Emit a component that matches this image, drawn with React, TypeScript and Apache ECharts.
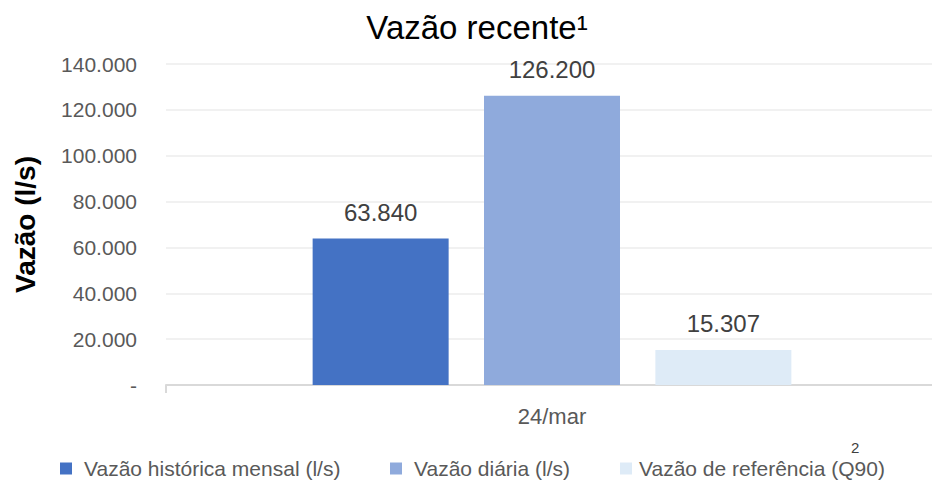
import React, { useEffect, useRef } from "react";
import * as echarts from "echarts";

const categories = ["24/mar"];
const seriesNames = ["Vazão histórica mensal (l/s)", "Vazão diária (l/s)", "Vazão de referência (Q90)"];
const seriesValues = [[63840], [126200], [15307]];
const seriesColors = ["#4472C4", "#8FAADC", "#DEEBF7"];
const yTicks = { min: 0, max: 140000, interval: 20000 };

const FONT = "'Liberation Sans', 'Noto Sans', sans-serif";

function fmt(v: number): string {
  if (v === 0) return "-";
  return Math.round(v).toString().replace(/\B(?=(\d{3})+(?!\d))/g, ".");
}

const legendLefts = [55, 385, 615];
const legendTextPad = [7, 7, 2];

export default function App() {
  const ref = useRef<HTMLDivElement>(null);
  useEffect(() => {
    if (!ref.current) return;
    const chart = echarts.init(ref.current, undefined, { renderer: "svg" });
    chart.setOption({
      animation: false,
      backgroundColor: "#ffffff",
      textStyle: { fontFamily: FONT },
      title: {
        text: "Vazão recente¹",
        left: 472,
        textAlign: "center",
        top: 6,
        textStyle: { fontFamily: FONT, fontSize: 33, fontWeight: "normal", color: "#000000" },
      },
      legend: seriesNames.map((name, i) => ({
        top: 453,
        left: legendLefts[i],
        itemWidth: 12,
        itemHeight: 12,
        icon: "rect",
        textStyle: { fontFamily: FONT, fontSize: 21, color: "#595959", padding: [0, 0, 0, legendTextPad[i]] },
        data: [name],
      })),
      grid: { left: 166, right: 0, top: 64, bottom: 99 },
      xAxis: {
        type: "category",
        data: categories,
        axisLine: { show: true, lineStyle: { color: "#D9D9D9", width: 2 } },
        axisTick: { show: true, alignWithLabel: false, length: 8, lineStyle: { color: "#D9D9D9", width: 2 } },
        axisLabel: { fontFamily: FONT, fontSize: 22, color: "#595959", margin: 20 },
      },
      yAxis: {
        type: "value",
        min: yTicks.min,
        max: yTicks.max,
        interval: yTicks.interval,
        name: "Vazão (l/s)",
        nameLocation: "middle",
        nameGap: 127,
        nameTextStyle: { fontFamily: FONT, fontSize: 28, fontWeight: "bold", color: "#000000" },
        axisLine: { show: false },
        axisTick: { show: false },
        splitLine: { lineStyle: { color: "#EDEDED", width: 1.5 } },
        axisLabel: {
          fontFamily: FONT,
          fontSize: 21,
          color: "#595959",
          margin: 29,
          formatter: (v: number) => fmt(v),
        },
      },
      series: seriesNames.map((name, i) => ({
        name,
        type: "bar",
        data: seriesValues[i],
        barWidth: 136,
        barGap: "26%",
        itemStyle: { color: seriesColors[i] },
        label: {
          show: true,
          position: "top",
          distance: 14,
          fontFamily: FONT,
          fontSize: 24,
          color: "#404040",
          formatter: (p: any) => fmt(p.value),
        },
      })),
      graphic: [
        {
          type: "text",
          left: 851,
          top: 440,
          style: { text: "2", fontFamily: FONT, fontSize: 15, fill: "#404040" },
        },
      ],
    });
    return () => chart.dispose();
  }, []);
  return (
    <div style={{ position: "absolute", left: 0, top: 0, width: 932, height: 484, overflow: "hidden" }}>
      <div ref={ref} style={{ width: 938, height: 484 }} />
    </div>
  );
}
